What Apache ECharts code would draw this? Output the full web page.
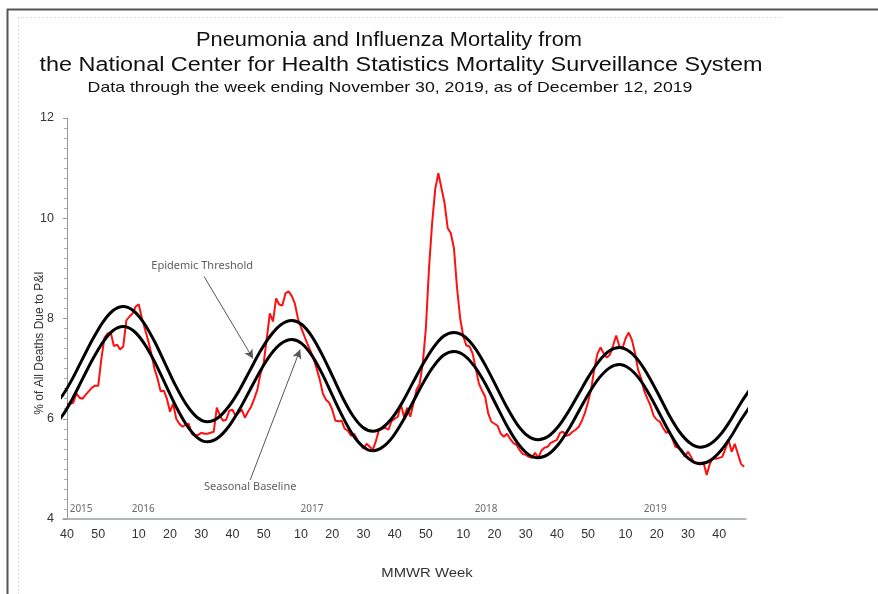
<!DOCTYPE html>
<html>
<head>
<meta charset="utf-8">
<title>Pneumonia and Influenza Mortality</title>
<script src="https://cdn.jsdelivr.net/npm/echarts@6/dist/echarts.min.js"></script>
<style>
  html, body { margin: 0; padding: 0; background: #fff; }
  #chart { width: 878px; height: 594px; }
</style>
</head>
<body>
<div id="chart"></div>
<script>
  // MMWR seasons shown on the axis: [year, first week, last week]
  var seasons = [[2015, 40, 53], [2016, 1, 52], [2017, 1, 52], [2018, 1, 52], [2019, 1, 48]];

  // weekly % of all deaths due to P&I, week 40/2015 .. week 48/2019
  var pniPercent = [
    6.30, 6.30, 6.32, 6.50, 6.42, 6.40, 6.48, 6.55, 6.62, 6.66,
    6.66, 7.20, 7.62, 7.70, 7.72, 7.45, 7.48, 7.38, 7.44, 7.96,
    8.04, 8.10, 8.24, 8.28, 8.00, 7.78, 7.56, 7.30, 7.00, 6.80,
    6.55, 6.56, 6.40, 6.14, 6.30, 6.00, 5.90, 5.84, 5.88, 5.90,
    5.70, 5.66, 5.68, 5.72, 5.70, 5.70, 5.72, 5.74, 6.22, 6.06,
    5.96, 5.98, 6.16, 6.18, 6.06, 6.12, 6.18, 6.02, 6.14, 6.24,
    6.40, 6.58, 6.90, 7.10, 7.60, 8.10, 7.94, 8.40, 8.28, 8.26,
    8.50, 8.54, 8.45, 8.30, 8.00, 7.82, 7.66, 7.50, 7.36, 7.20,
    7.00, 6.78, 6.50, 6.38, 6.32, 6.18, 5.96, 5.95, 5.96, 5.80,
    5.76, 5.66, 5.70, 5.58, 5.50, 5.40, 5.50, 5.44, 5.38, 5.56,
    5.78, 5.80, 5.82, 5.78, 5.95, 6.00, 6.04, 6.28, 6.04, 6.22,
    6.04, 6.30, 6.58, 6.70, 7.10, 7.80, 9.00, 9.90, 10.58, 10.90,
    10.60, 10.30, 9.80, 9.70, 9.40, 8.60, 8.00, 7.64, 7.46, 7.44,
    7.30, 7.00, 6.70, 6.56, 6.44, 6.10, 5.94, 5.90, 5.86, 5.70,
    5.64, 5.70, 5.60, 5.52, 5.48, 5.38, 5.30, 5.28, 5.24, 5.22,
    5.32, 5.22, 5.36, 5.42, 5.44, 5.52, 5.55, 5.58, 5.72, 5.74,
    5.66, 5.68, 5.74, 5.78, 5.84, 5.96, 6.12, 6.34, 6.60, 7.00,
    7.30, 7.42, 7.30, 7.22, 7.28, 7.46, 7.66, 7.45, 7.40, 7.60,
    7.72, 7.58, 7.32, 6.98, 6.80, 6.55, 6.40, 6.26, 6.06, 5.98,
    5.94, 5.82, 5.72, 5.74, 5.60, 5.44, 5.42, 5.38, 5.24, 5.34,
    5.24, 5.12, 5.12, 5.12, 5.12, 4.88, 5.10, 5.22, 5.20, 5.22,
    5.24, 5.40, 5.58, 5.34, 5.50, 5.30, 5.10, 5.04
  ];

  // black curves, read at these week positions (0 = week 40/2015)
  var curveWeeks = [
    -4.75, -1.5, 1.75, 5, 8.25, 11.5, 14.75, 18,
    21.375, 24.75, 28.125, 31.5, 34.875, 38.25, 41.625, 45,
    48.375, 51.75, 55.125, 58.5, 61.875, 65.25, 68.625, 72,
    75.25, 78.5, 81.75, 85, 88.25, 91.5, 94.75, 98,
    101.25, 104.5, 107.75, 111, 114.25, 117.5, 120.75, 124,
    127.375, 130.75, 134.125, 137.5, 140.875, 144.25, 147.625, 151,
    154.25, 157.5, 160.75, 164, 167.25, 170.5, 173.75, 177,
    180.25, 183.5, 186.75, 190, 193.25, 196.5, 199.75, 203,
    206.25, 209.5, 212.75, 216, 219.25
  ];
  var baseline = [
    5.83, 6.06, 6.40, 6.80, 7.19, 7.53, 7.76, 7.84,
    7.75, 7.50, 7.13, 6.69, 6.25, 5.88, 5.63, 5.54,
    5.62, 5.84, 6.17, 6.56, 6.95, 7.28, 7.50, 7.58,
    7.50, 7.26, 6.90, 6.47, 6.05, 5.69, 5.45, 5.36,
    5.44, 5.65, 5.97, 6.35, 6.73, 7.05, 7.27, 7.34,
    7.26, 7.03, 6.69, 6.28, 5.87, 5.53, 5.30, 5.22,
    5.29, 5.49, 5.79, 6.15, 6.51, 6.81, 7.01, 7.08,
    7.00, 6.79, 6.47, 6.09, 5.71, 5.39, 5.18, 5.10,
    5.17, 5.36, 5.64, 5.98, 6.28
  ];
  var threshold = [
    6.23, 6.46, 6.80, 7.20, 7.59, 7.93, 8.16, 8.24,
    8.15, 7.90, 7.53, 7.09, 6.65, 6.28, 6.03, 5.94,
    6.02, 6.24, 6.56, 6.95, 7.34, 7.66, 7.88, 7.96,
    7.88, 7.64, 7.28, 6.86, 6.43, 6.07, 5.83, 5.75,
    5.83, 6.04, 6.36, 6.74, 7.11, 7.43, 7.65, 7.72,
    7.64, 7.41, 7.06, 6.65, 6.24, 5.89, 5.66, 5.58,
    5.65, 5.85, 6.15, 6.50, 6.85, 7.15, 7.35, 7.42,
    7.34, 7.13, 6.81, 6.43, 6.04, 5.72, 5.51, 5.43,
    5.50, 5.69, 5.98, 6.32, 6.62
  ];

  var yearNames = ["2015", "2016", "2017", "2018", "2019"];

  var chartDom = echarts.init(document.getElementById("chart"));

  function getOptions(){
    var weekNums = [], tickIdx = [], yearMarks = [],
      yearAt = [4.5, 24.4, 78.5, 134.3, 188.5],
      font = "'Liberation Sans', Arial, sans-serif",
      noteFont = "'Noto Sans', 'Open Sans', sans-serif",
      arrowStyle = {color: "#555", width: 1, type: "solid"}
    ;
    seasons.forEach(function (s) {
      for (var w = s[1]; w <= s[2]; w++) {
        w % 10 === 0 && tickIdx.push(weekNums.length);
        weekNums.push(w);
      }
    });
    yearNames.forEach(function (y, i) {
      yearMarks.push([yearAt[i], 4.2, y]);
    });

    return {
      animation: false,
      grid: {left: 63, right: 132, top: 118, bottom: 75},
      xAxis: {
        type: "value",
        min: -1.3,
        max: 217.6,
        axisLine: {lineStyle: {color: "#9aa39a", width: 1.5}},
        axisTick: {show: false},
        splitLine: {show: false},
        axisLabel: {
          customValues: tickIdx,
          formatter: function (v) { return weekNums[v]; },
          color: "#333", fontSize: 12.5, fontFamily: font, margin: 9
        }
      },
      yAxis: {
        type: "value",
        min: 4,
        max: 12,
        interval: 2,
        axisLine: {show: true, lineStyle: {color: "#999"}},
        axisTick: {show: true, length: 4, lineStyle: {color: "#999"}},
        minorTick: {show: true, splitNumber: 10, length: 3, lineStyle: {color: "#aaa"}},
        splitLine: {show: false},
        axisLabel: {color: "#333", fontSize: 12.5, fontFamily: font, margin: 9}
      },
      series: [
        {
          name: "P&I",
          type: "line",
          data: pniPercent.map(function (v, i) { return [i, v]; }),
          showSymbol: false,
          lineStyle: {color: "#ff1010", width: 2},
          z: 2
        },
        {
          name: "Epidemic Threshold",
          type: "line",
          smooth: 0.3,
          clip: true,
          data: threshold.map(function (v, i) { return [curveWeeks[i], v]; }),
          showSymbol: false,
          lineStyle: {color: "#000", width: 3},
          z: 3
        },
        {
          name: "Seasonal Baseline",
          type: "line",
          smooth: 0.3,
          clip: true,
          data: baseline.map(function (v, i) { return [curveWeeks[i], v]; }),
          showSymbol: false,
          lineStyle: {color: "#000", width: 3},
          z: 3,
          markLine: {
            silent: true,
            symbol: ["none", "arrow"],
            symbolSize: [7, 9],
            lineStyle: arrowStyle,
            label: {show: false},
            data: [
              [{coord: [43.9, 8.84]}, {coord: [59.6, 7.20]}],
              [{coord: [58.7, 4.78]}, {coord: [74.7, 7.38]}]
            ]
          }
        },
        {
          name: "labels",
          type: "scatter",
          symbolSize: 0,
          data: yearMarks,
          label: {
            show: true,
            position: "inside",
            formatter: function (p) { return p.value[2]; },
            color: "#444",
            fontSize: 10,
            fontFamily: noteFont
          },
          z: 4
        },
        {
          name: "notes",
          type: "scatter",
          symbolSize: 0,
          data: [[43.3, 9.06, "Epidemic Threshold"], [58.7, 4.64, "Seasonal Baseline"]],
          label: {
            show: true,
            position: "inside",
            formatter: function (p) { return p.value[2]; },
            color: "#333",
            fontSize: 11,
            fontFamily: noteFont
          },
          z: 4
        }
      ],
      graphic: [
        {type: "line", shape: {x1: 7, y1: 9.5, x2: 878, y2: 9.5}, style: {stroke: "#555", lineWidth: 2}},
        {type: "line", shape: {x1: 7.5, y1: 9, x2: 7.5, y2: 594}, style: {stroke: "#555", lineWidth: 2}},
        {type: "line", shape: {x1: 18, y1: 17.5, x2: 783, y2: 17.5}, style: {stroke: "#ddd", lineWidth: 1, lineDash: [2, 2]}},
        {type: "line", shape: {x1: 18.5, y1: 17, x2: 18.5, y2: 594}, style: {stroke: "#ddd", lineWidth: 1, lineDash: [2, 2]}},
        {type: "text", x: 389, y: 41, scaleX: 1.12, style: {text: "Pneumonia and Influenza Mortality from", fontSize: 19.5, fontFamily: font, fill: "#111", align: "center", verticalAlign: "middle"}},
        {type: "text", x: 401, y: 65, scaleX: 1.17, style: {text: "the National Center for Health Statistics Mortality Surveillance System", fontSize: 20, fontFamily: font, fill: "#111", align: "center", verticalAlign: "middle"}},
        {type: "text", x: 390, y: 88, scaleX: 1.22, style: {text: "Data through the week ending November 30, 2019, as of December 12, 2019", fontSize: 14.5, fontFamily: font, fill: "#111", align: "center", verticalAlign: "middle"}},
        {type: "text", x: 40, y: 343, rotation: Math.PI / 2, style: {text: "% of All Deaths Due to P&I", fontSize: 12, fontFamily: font, fill: "#333", align: "center", verticalAlign: "middle"}},
        {type: "text", x: 427, y: 573, scaleX: 1.1, style: {text: "MMWR Week", fontSize: 13.5, fontFamily: font, fill: "#333", align: "center", verticalAlign: "middle"}}
      ]
    };
  }

  chartDom.setOption(getOptions());
</script>
</body>
</html>
